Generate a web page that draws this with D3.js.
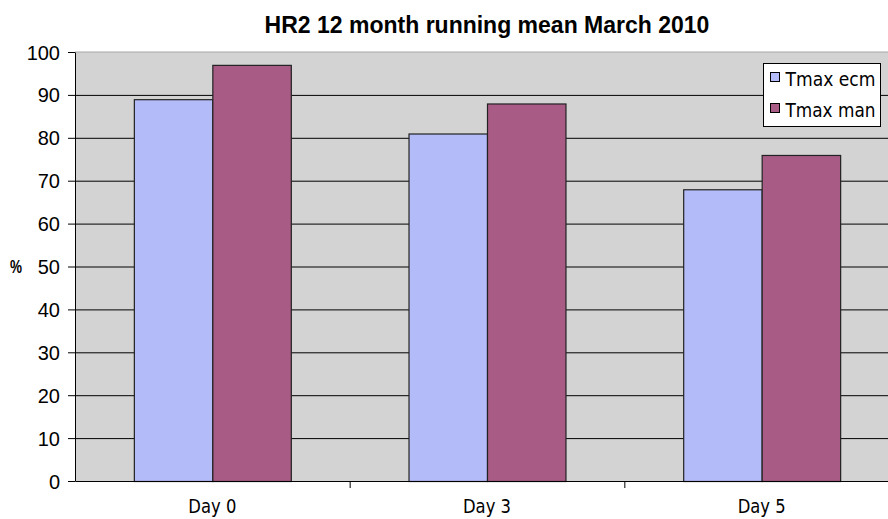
<!DOCTYPE html>
<html>
<head>
<meta charset="utf-8">
<script src="https://cdn.jsdelivr.net/npm/d3@7"></script>
<style>
  body { margin: 0; background: #fff; }
  text { font-family: "Liberation Sans", Arial, sans-serif; }
  .cond { font-family: "DejaVu Sans Condensed", "DejaVu Sans", sans-serif; font-stretch: condensed; }
</style>
</head>
<body>
<div class="module"></div>
<script>
const days = ["Day 0", "Day 3", "Day 5"];
const seriesNames = ["Tmax ecm", "Tmax man"];
const ecm = [89, 81, 68];
const man = [97, 88, 76];
const yTicks = [0, 10, 20, 30, 40, 50, 60, 70, 80, 90, 100];
const colors = ["#b3bbf8", "#a85b85"];

const data = days.map((d, i) => ({ day: d, values: [ecm[i], man[i]] }));

const width = 888, height = 519;
const margin = { top: 52, right: -11, bottom: 38, left: 75 };
const innerW = width - margin.left - margin.right,
      innerH = height - margin.top - margin.bottom;

const svg = d3.select(".module")
  .append("svg")
    .attr("width", width)
    .attr("height", height);

// title
svg.append("text")
  .attr("x", margin.left + innerW / 2)
  .attr("y", 33)
  .attr("text-anchor", "middle")
  .style("font-size", "23px")
  .style("font-weight", "bold")
  .text("HR2 12 month running mean March 2010");

const g = svg.append("g")
  .attr("transform", "translate(" + margin.left + "," + margin.top + ")");

const x0 = d3.scaleBand()
  .domain(days)
  .range([0, innerW])
  .paddingInner(0)
  .paddingOuter(0);

const x1 = d3.scaleBand()
  .domain([0, 1])
  .range([0, x0.bandwidth()])
  .paddingOuter(0.75)
  .paddingInner(0);

const y = d3.scaleLinear()
  .domain([0, 100])
  .range([innerH, 0]);

// plot background
g.append("rect")
  .attr("width", innerW)
  .attr("height", innerH)
  .attr("fill", "#d3d3d3");

g.append("line")
  .attr("x1", 0).attr("x2", innerW)
  .attr("y1", 0).attr("y2", 0)
  .attr("stroke", "#a8a8a8");

// gridlines
g.selectAll(".grid")
  .data(yTicks.filter(t => t > 0 && t < 100))
  .enter()
  .append("line")
    .attr("x1", 0).attr("x2", innerW)
    .attr("y1", d => y(d) + 0.5).attr("y2", d => y(d) + 0.5)
    .attr("stroke", "#000");

// bars
const groups = g.selectAll(".group")
  .data(data)
  .enter()
  .append("g")
    .attr("transform", d => "translate(" + x0(d.day) + ",0)");

groups.selectAll("rect")
  .data(d => d.values)
  .enter()
  .append("rect")
    .attr("x", (d, i) => x1(i) + 0.5)
    .attr("y", d => y(d) + 0.5)
    .attr("width", x1.bandwidth())
    .attr("height", d => innerH - y(d))
    .attr("fill", (d, i) => colors[i])
    .attr("stroke", "#222")
    .attr("stroke-width", 1.2);

// y axis
const yAxis = g.append("g")
  .call(d3.axisLeft(y).tickValues(yTicks).tickSize(7).tickSizeOuter(0));
yAxis.attr("font-size", null).attr("font-family", null);
yAxis.selectAll("text")
  .style("font-size", "20px")
  .attr("fill", "#000")
  .attr("x", -15)
  .attr("dy", "0.35em");
yAxis.selectAll("line").attr("stroke", "#000");
yAxis.select(".domain").attr("stroke", "#000");

// x axis
const xAxis = g.append("g")
  .call(d3.axisBottom(x0).tickSize(0).tickSizeOuter(0))
  .attr("transform", "translate(0," + innerH + ")");
xAxis.attr("font-size", null).attr("font-family", null);
xAxis.select(".domain").attr("stroke", "#000");
xAxis.selectAll("text")
  .attr("class", "cond")
  .style("font-size", "19px")
  .attr("fill", "#000")
  .attr("y", 32)
  .attr("dy", 0)
  .attr("textLength", 48)
  .attr("lengthAdjust", "spacingAndGlyphs");

// category boundary ticks
g.append("g")
  .selectAll("line")
  .data(days.slice(1))
  .enter()
  .append("line")
    .attr("x1", d => x0(d) + 0.5).attr("x2", d => x0(d) + 0.5)
    .attr("y1", innerH).attr("y2", innerH + 7)
    .attr("stroke", "#000");

// y label
svg.append("text")
  .attr("x", 16)
  .attr("y", 273)
  .attr("text-anchor", "middle")
  .style("font-size", "18px")
  .style("font-weight", "bold")
  .attr("textLength", 12)
  .attr("lengthAdjust", "spacingAndGlyphs")
  .text("%");

// legend
const legend = svg.append("g")
  .attr("transform", "translate(763.5,63.5)");
legend.append("rect")
  .attr("width", 117)
  .attr("height", 63)
  .attr("fill", "#fff")
  .attr("stroke", "#000");
seriesNames.forEach((name, i) => {
  legend.append("rect")
    .attr("x", 7)
    .attr("y", 14 + i * 31 - 5)
    .attr("width", 9)
    .attr("height", 9)
    .attr("fill", colors[i])
    .attr("stroke", "#000");
  legend.append("text")
    .attr("class", "cond")
    .attr("x", 22)
    .attr("y", 14 + i * 31 + 8)
    .style("font-size", "19px")
    .attr("textLength", 90)
    .attr("lengthAdjust", "spacingAndGlyphs")
    .text(name);
});
</script>
</body>
</html>
